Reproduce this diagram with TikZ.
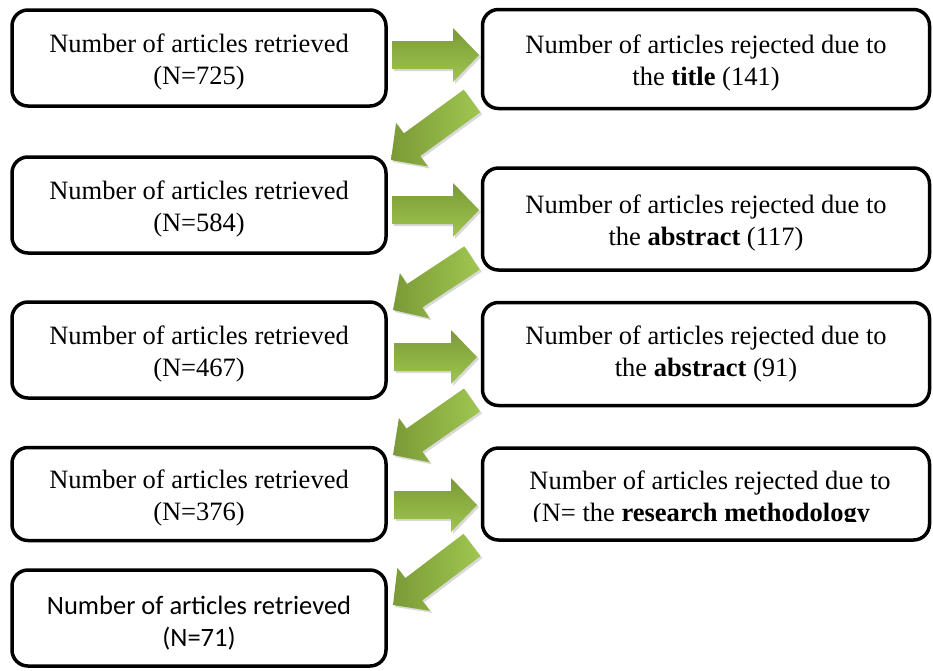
\documentclass[tikz,border=0pt]{standalone}
\usepackage{fontspec}
\setmainfont{Liberation Serif}
\newfontfamily\carlito{Carlito}
\usetikzlibrary{calc}
\definecolor{ArrowDark}{HTML}{7A9A36}
\definecolor{ArrowLight}{HTML}{A0C650}
\newcommand{\topstrut}{\rule{0pt}{27pt}}
\tikzset{
  BX/.style={rectangle,rounded corners=16pt,draw,line width=3.5pt,
             inner sep=0pt,text centered,align=center,
             font=\fontsize{26.5}{32}\selectfont},
  LB/.style={BX,minimum width=374pt,minimum height=96pt},
  RB/.style={BX,minimum width=447pt,minimum height=99pt},
  fat/.style={draw=none,
    preaction={fill=black,opacity=.15,transform canvas={shift={(2pt,-2pt)}}},
    to path={
      ($(\tikztostart)!14pt!90:(\tikztotarget)$)
      -- ($($(\tikztotarget)!26pt!(\tikztostart)$)!14pt!90:(\tikztotarget)$)
      -- ($($(\tikztotarget)!26pt!(\tikztostart)$)!27pt!90:(\tikztotarget)$)
      -- (\tikztotarget)
      -- ($($(\tikztotarget)!26pt!(\tikztostart)$)!27pt!-90:(\tikztotarget)$)
      -- ($($(\tikztotarget)!26pt!(\tikztostart)$)!14pt!-90:(\tikztotarget)$)
      -- ($(\tikztostart)!14pt!-90:(\tikztotarget)$) -- cycle}},
  fatH/.style={fat,top color=ArrowDark,bottom color=ArrowLight},
  fatD/.style={fat,left color=ArrowDark,right color=ArrowLight}
}
\begin{document}
\begin{tikzpicture}[x=1pt,y=-1pt]
  \useasboundingbox (0,0) rectangle (933,670);
  % retrieved
  \node[LB] (l1) at (199,58) {\topstrut Number of articles retrieved\\(N=725)};
  \node[LB] (l2) at (199,205) {\topstrut Number of articles retrieved\\(N=584)};
  \node[LB] (l3) at (199,350) {\topstrut Number of articles retrieved\\(N=467)};
  \node[LB,minimum height=93pt] (l4) at (199,494) {\topstrut Number of articles retrieved\\(N=376)};
  \node[LB,font=\carlito\fontsize{26.5}{32}\selectfont] (l5) at (199,618) {\rule{0pt}{29pt}Number of articles retrieved\\(N=71)};
  % rejected
  \node[RB] (r1) at (706,59) {\topstrut Number of articles rejected due to\\the \textbf{title} (141)};
  \node[RB,minimum height=102pt] (r2) at (706,219) {\topstrut Number of articles rejected due to\\the \textbf{abstract} (117)};
  \node[RB,minimum height=103pt] (r3) at (706,354) {Number of articles rejected due to\\the \textbf{abstract} (91)};
  \node[RB,minimum height=92pt] (r4) at (706,494) {};
  \begin{scope}
    \clip (r4.north west) rectangle ($(r4.east)+(0,27)$);
    \node[font=\fontsize{26.5}{32}\selectfont,align=center] (r4txt) at ($(r4.center)+(4,5)$) {Number of articles rejected due to\\(N= the \textbf{research methodology}\hspace*{17pt}};
  \end{scope}

  % block arrows
  \coordinate (h1a) at (392,55);  \coordinate (h1b) at (479,55);
  \coordinate (h2a) at (392,210); \coordinate (h2b) at (479,210);
  \coordinate (h3a) at (394,357); \coordinate (h3b) at (477,357);
  \coordinate (h4a) at (394,505); \coordinate (h4b) at (477,505);
  \coordinate (d1a) at (472,101); \coordinate (d1b) at (391,160);
  \coordinate (d2a) at (472,258); \coordinate (d2b) at (393,310);
  \coordinate (d3a) at (472,400); \coordinate (d3b) at (393,455);
  \coordinate (d4a) at (472,545); \coordinate (d4b) at (393,605);
  \path[fatH] (h1a) to (h1b);
  \path[fatH] (h2a) to (h2b);
  \path[fatH] (h3a) to (h3b);
  \path[fatH] (h4a) to (h4b);
  \path[fatD] (d1a) to (d1b);
  \path[fatD] (d2a) to (d2b);
  \path[fatD] (d3a) to (d3b);
  \path[fatD] (d4a) to (d4b);
\end{tikzpicture}
\end{document}
